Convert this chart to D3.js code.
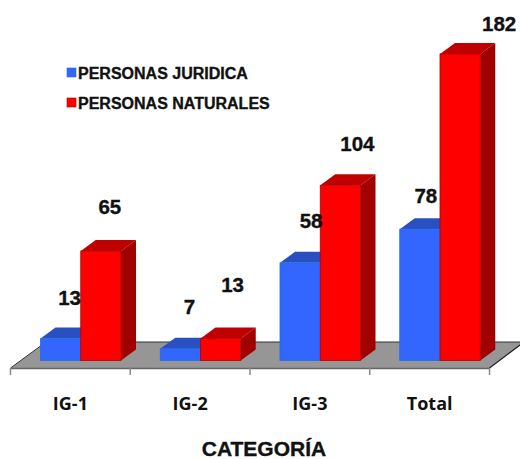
<!DOCTYPE html>
<html><head><meta charset="utf-8">
<script src="https://cdn.jsdelivr.net/npm/d3@7"></script>
<style>html,body{margin:0;padding:0;background:#fff}svg{display:block}</style></head>
<body><svg id="c" width="520" height="459"></svg>
<script>
const categories=["IG-1","IG-2","IG-3","Total"];
const seriesNames=["PERSONAS JURIDICA","PERSONAS NATURALES"];
const juridica=[13,7,58,78];
const naturales=[65,13,104,182];
const seriesValues=[juridica,naturales];
const maxValue=182;

// hand placement of the value labels, relative to each bar's top centre
const labelDx=[[9,9,11,6],[9,12,17,39]];
const labelDy=[[34,35,35,26],[37,47,34,23]];

const svg=d3.select("#c");
const baseY=360.5,depthX=15,depthY=11,floorFrontY=368;
const x=d3.scaleBand().domain(categories).range([10.5,489.5]);
const inner=d3.scaleBand().domain([0,1]).range([30,110.5]);
const y=d3.scaleLinear().domain([0,maxValue]).range([baseY,54]);
const bx=(c,s)=>x(c)+inner(s);
const bw=inner.bandwidth();

const styles=[
 {front:"#3366ff",top:"#2a4fc0",side:"#2a4fc0",edge:"#1f6fe0"},
 {front:"#ff0000",top:"#c00000",side:"#a00000",edge:"#b00000"}
];
const bolder=sel=>sel.attr("stroke","#111").attr("stroke-width",0.35);

// floor
svg.append("polygon")
 .attr("points",[[10.5,floorFrontY],[46,342],[525,342],[489.5,floorFrontY]].join(" "))
 .attr("fill","#969696");
svg.append("path").attr("d",`M10.5 ${floorFrontY}L46 342L520 342`).attr("fill","none").attr("stroke","#333").attr("stroke-width",1);
svg.append("path").attr("d",`M489.5 ${floorFrontY}L524 342`).attr("fill","none").attr("stroke","#222").attr("stroke-width",1.2);

// axis
const axis=d3.axisBottom(x).tickSize(0).tickPadding(38);
const ag=svg.append("g").attr("transform",`translate(0,${floorFrontY})`).call(axis);
ag.select(".domain").attr("stroke","#666").attr("stroke-width",1.5);
ag.selectAll("text").attr("font-family","'Open Sans',sans-serif").attr("font-weight",700).attr("font-size",18).attr("fill","#111").attr("dy","0.2em");
ag.selectAll("line.edge").data([...categories.map(c=>x(c)),x.range()[1]]).enter().append("line")
 .attr("x1",d=>d).attr("x2",d=>d).attr("y1",0).attr("y2",7).attr("stroke","#8a8a8a").attr("stroke-width",1.5);

// bars
const rows=categories.flatMap((c,i)=>seriesValues.map((v,s)=>({c,s,i,v:v[i]})));
const g=svg.selectAll("g.bar").data(rows).enter().append("g").attr("class","bar");
g.append("polygon").attr("fill",d=>styles[d.s].top).attr("points",d=>{
  const a=bx(d.c,d.s),t=y(d.v);
  return [[a,t],[a+depthX,t-depthY],[a+bw+depthX,t-depthY],[a+bw,t]].join(" ");
});
g.append("polygon").attr("fill",d=>styles[d.s].side).attr("points",d=>{
  const a=bx(d.c,d.s)+bw,t=y(d.v);
  return [[a,t],[a+depthX,t-depthY],[a+depthX,baseY-depthY],[a,baseY]].join(" ");
});
g.append("rect").attr("x",d=>bx(d.c,d.s)).attr("y",d=>y(d.v)).attr("width",bw).attr("height",d=>baseY-y(d.v))
 .attr("fill",d=>styles[d.s].front).attr("stroke",d=>styles[d.s].edge).attr("stroke-width",0.8);

// value labels
const labelFont="'Liberation Sans',Arial,sans-serif";
svg.selectAll("text.val").data(rows).enter().append("text").attr("class","val")
 .attr("x",d=>bx(d.c,d.s)+bw/2+labelDx[d.s][d.i])
 .attr("y",d=>y(d.v)-labelDy[d.s][d.i])
 .attr("text-anchor","middle").attr("font-family",labelFont).attr("font-weight",700).attr("font-size",20.5)
 .attr("fill","#111").text(d=>d.v).call(bolder);

// legend
const lg=svg.selectAll("g.leg").data(seriesNames).enter().append("g").attr("class","leg")
 .attr("transform",(d,i)=>`translate(67,${73+i*30})`);
lg.append("rect").attr("x",0).attr("y",-5).attr("width",9).attr("height",9).attr("fill",(d,i)=>styles[i].front).attr("stroke",(d,i)=>styles[i].edge).attr("stroke-width",0.6);
lg.append("text").attr("x",11).attr("y",6).attr("font-family",labelFont).attr("font-weight",700).attr("font-size",16).attr("fill","#111").text(d=>d).call(bolder);

// axis title
svg.append("text").attr("x",264).attr("y",456).attr("text-anchor","middle").attr("font-family",labelFont)
 .attr("font-weight",700).attr("font-size",21).attr("fill","#111").text("CATEGORÍA").call(bolder);
</script></body></html>
